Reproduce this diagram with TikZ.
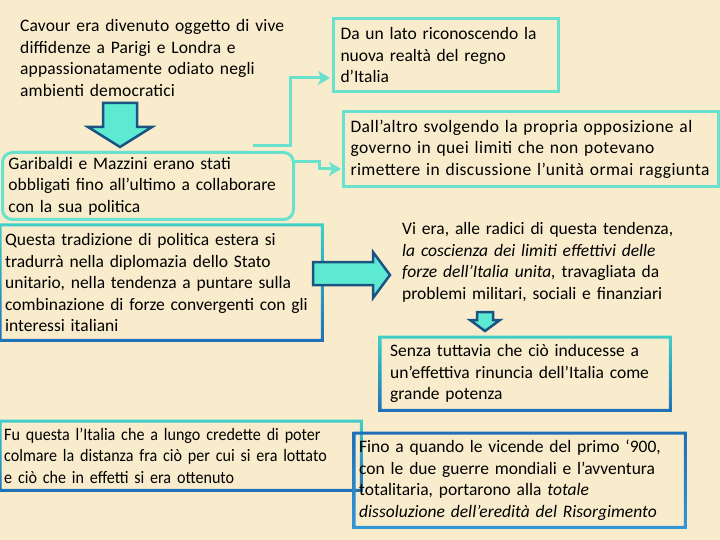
\documentclass[tikz,border=0pt]{standalone}
\usepackage{fontspec}
\setmainfont{Carlito}
\newfontfamily\narrowfont[FakeStretch=0.92]{Carlito}
\newfontfamily\widefont[LetterSpace=0.8]{Carlito}
\newfontfamily\airfont[LetterSpace=2.4]{Carlito}
\usepackage{tikz}
\usetikzlibrary{arrows.meta}

\definecolor{parchment}{RGB}{249,236,205}
\definecolor{aqua}{RGB}{104,226,204}
\definecolor{aquafill}{RGB}{92,234,210}
\definecolor{navy}{RGB}{27,84,130}
\definecolor{teal2}{RGB}{64,208,200}
\definecolor{steel}{RGB}{30,112,182}
\definecolor{skyblue}{RGB}{50,150,215}

% frame with a shaded border round a node
\newcommand{\gradframe}[3]{%
  \shade[even odd rule, top color=#2, bottom color=#3]
    ([shift={(-1.5pt,1.5pt)}]#1.north west) rectangle ([shift={(1.5pt,-1.5pt)}]#1.south east)
    ([shift={(1.5pt,-1.5pt)}]#1.north west) rectangle ([shift={(-1.5pt,1.5pt)}]#1.south east);}

\begin{document}
\begin{tikzpicture}[x=1pt, y=-1pt,
  txt/.style={anchor=north west, align=left, inner xsep=7pt, inner ysep=0pt, font=\fontsize{17.5}{21.5}\selectfont},
  narrowtxt/.style={txt, font=\narrowfont\fontsize{17.5}{21.5}\selectfont},
  aquabox/.style={txt, draw=aqua, line width=3pt},
  link/.style={draw=aqua, line width=3pt, -{Stealth[length=12pt,width=14pt,inset=3pt]}},
  blockarrow/.style={draw=navy, line width=2.5pt, fill=aquafill, line join=miter}]

	\fill[parchment] (0,0) rectangle (720,540);
	\useasboundingbox (0,0) rectangle (720,540);

	\node[txt, text width=320pt, font=\widefont\fontsize{17.5}{21.5}\selectfont] (cavour) at (13,19.5) {Cavour era divenuto oggetto di vive\\ diffidenze a Parigi e Londra e\\ appassionatamente odiato negli\\ ambienti democratici};

	\node[aquabox, text width=211pt, minimum height=73pt] (lato) at (332,17) {Da un lato riconoscendo la\\ nuova realtà del regno\\ d’Italia};
	\node[aquabox, text width=361pt, minimum height=75pt, font=\airfont\fontsize{17.5}{21.5}\selectfont] (altro) at (342,110) {Dall’altro svolgendo la propria opposizione al\\ governo in quei limiti che non potevano\\ rimettere in discussione l’unità ormai raggiunta};

	\node[aquabox, rounded corners=10pt, inner xsep=6pt, text width=279pt, minimum height=67pt] (garibaldi) at (1,151) {Garibaldi e Mazzini erano stati\\ obbligati fino all’ultimo a collaborare\\ con la sua politica};

	\node[txt, inner xsep=5pt, text width=312pt, minimum height=115pt] (questa) at (0,225) {Questa tradizione di politica estera si\\ tradurrà nella diplomazia dello Stato\\ unitario, nella tendenza a puntare sulla\\ combinazione di forze convergenti con gli\\ interessi italiani};
	\gradframe{questa}{teal2}{steel}

	\node[txt, text width=310pt] (radici) at (395,222.5) {Vi era, alle radici di questa tendenza,\\ \textit{la coscienza dei limiti effettivi delle}\\ \textit{forze dell’Italia unita,} travagliata da\\ problemi militari, sociali e finanziari};

	\node[txt, inner xsep=10pt, text width=270pt, minimum height=73pt] (senza) at (380,337) {Senza tuttavia che ciò inducesse a\\ un’effettiva rinuncia dell’Italia come\\ grande potenza};
	\gradframe{senza}{teal2}{steel}

	\node[narrowtxt, inner xsep=4pt, text width=353pt, minimum height=69pt] (fu) at (0,421) {\raisebox{-4pt}{\parbox{353pt}{Fu questa l’Italia che a lungo credette di poter\\ colmare la distanza fra ciò per cui si era lottato\\ e ciò che in effetti si era ottenuto}}};
	\gradframe{fu}{teal2}{steel}

	\node[txt, inner xsep=5pt, text width=321pt, minimum height=94pt] (fino) at (354,433) {Fino a quando le vicende del primo ‘900,\\ con le due guerre mondiali e l’avventura\\ totalitaria, portarono alla \textit{totale}\\ \textit{dissoluzione dell’eredità del Risorgimento}};
	\gradframe{fino}{steel}{skyblue}

	% connectors
	\coordinate (start) at (253,146);
	\draw[link] (start) -- ++(37,0) |- ([yshift=-23pt,xshift=-2pt]lato.west);
	\draw[link] ([yshift=-11pt]garibaldi.north east) -- ++(24,0) |- ([yshift=-20pt,xshift=-1pt]altro.west);

	% block arrows
	\draw[blockarrow] (103,103) -- (137,103) -- (137,127) -- (152,127) -- (120,147) -- (88,127) -- (103,127) -- cycle;
	\draw[blockarrow] (313,262) -- (373,262) -- (373,252) -- (390,275) -- (373,298) -- (373,285) -- (313,285) -- cycle;
	\draw[blockarrow] (477,312) -- (493,312) -- (493,320) -- (500,320) -- (485,331) -- (470,320) -- (477,320) -- cycle;
\end{tikzpicture}
\end{document}
